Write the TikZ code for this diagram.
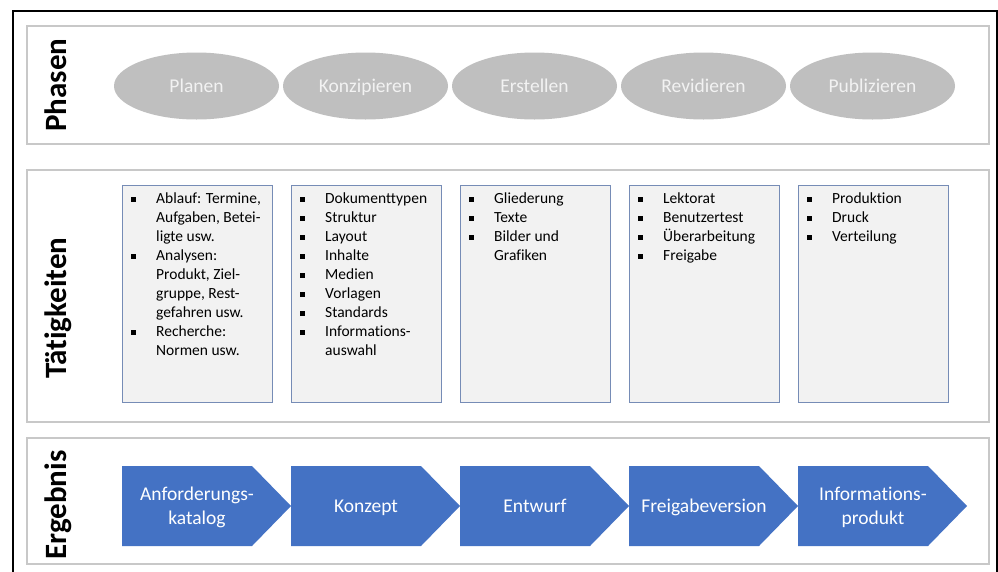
\documentclass[tikz,border=0pt]{standalone}
\usepackage{fontspec}
\setmainfont{Carlito}[Ligatures=CommonOff]
\usepackage{array}
\usetikzlibrary{shapes.geometric}
\definecolor{ellgray}{HTML}{BFBFBF}
\definecolor{elltext}{HTML}{F2F2F2}
\definecolor{panelgray}{HTML}{C8C8C8}
\definecolor{boxfill}{HTML}{F2F2F2}
\definecolor{boxline}{RGB}{118,140,182}
\definecolor{pentblue}{HTML}{4472C4}
\newcommand{\blt}{\rule[1.6pt]{4.5pt}{4.5pt}}
\tikzset{
  x=1pt, y=-1pt,
  frame/.style={draw=black, line width=2pt},
  panel/.style={draw=panelgray, line width=1.5pt, fill=white},
  phase/.style={ellipse, fill=ellgray, minimum width=165pt, minimum height=67pt, inner sep=0pt,
    text=elltext, font=\fontsize{19.5}{23}\selectfont, text height=13pt, text depth=0pt},
  actbox/.style={draw=boxline, line width=1pt, fill=boxfill, minimum width=150pt, minimum height=217pt, inner sep=0pt},
  acttext/.style={anchor=north west, inner sep=0pt, font=\fontsize{15.5}{19}\selectfont},
  rowlabel/.style={rotate=90, anchor=base, font=\fontsize{31}{36}\selectfont\bfseries, inner sep=0pt},
  pent/.style={fill=pentblue},
  restext/.style={text=white, align=center, font=\fontsize{19.5}{23.5}\selectfont, inner sep=0pt},
  resone/.style={restext, text height=13pt, text depth=0pt},
}
\begin{document}
\begin{tikzpicture}
\useasboundingbox (0,0) rectangle (998,571);
\clip (0,0) rectangle (998,571);
\fill[white] (0,0) rectangle (998,571);
% outer frame
\draw[frame] (13,11) rectangle (996.5,590);
% panels
\draw[panel] (27,26) rectangle (989,144);
\draw[panel] (27,170) rectangle (989,422);
\draw[panel] (27,438) rectangle (989,564);
% row labels
\node[rowlabel] (lphasen) at (66,85) {Phasen};
\node[rowlabel] (ltaet) at (66,308) {Tätigkeiten};
\node[rowlabel] (lerg) at (66,505) {Ergebnis};
% phases
\node[phase] (p1) at (196.5,86) {Planen};
\node[phase] (p2) at (365.5,86) {Konzipieren};
\node[phase] (p3) at (534.5,86) {Erstellen};
\node[phase] (p4) at (703.5,86) {Revidieren};
\node[phase] (p5) at (872.5,86) {Publizieren};
% activity boxes
\foreach \i in {0,...,4}{
  \node[actbox] (b\i) at (197+169*\i,293.5) {};
}
\node[acttext] (t0) at (131,190) {\begin{tabular}{@{}p{25pt}@{}l@{}}
\blt & Ablauf: Termine,\\
     & Aufgaben, Betei-\\
     & ligte usw.\\
\blt & Analysen:\\
     & Produkt, Ziel-\\
     & gruppe, Rest-\\
     & gefahren usw.\\
\blt & Recherche:\\
     & Normen usw.
\end{tabular}};
\node[acttext] (t1) at (300,190) {\begin{tabular}{@{}p{25pt}@{}l@{}}
\blt & Dokumenttypen\\
\blt & Struktur\\
\blt & Layout\\
\blt & Inhalte\\
\blt & Medien\\
\blt & Vorlagen\\
\blt & Standards\\
\blt & Informations-\\
     & auswahl
\end{tabular}};
\node[acttext] (t2) at (469,190) {\begin{tabular}{@{}p{25pt}@{}l@{}}
\blt & Gliederung\\
\blt & Texte\\
\blt & Bilder und\\
     & Grafiken
\end{tabular}};
\node[acttext] (t3) at (638,190) {\begin{tabular}{@{}p{25pt}@{}l@{}}
\blt & Lektorat\\
\blt & Benutzertest\\
\blt & Überarbeitung\\
\blt & Freigabe
\end{tabular}};
\node[acttext] (t4) at (807,190) {\begin{tabular}{@{}p{25pt}@{}l@{}}
\blt & Produktion\\
\blt & Druck\\
\blt & Verteilung
\end{tabular}};
% result pentagons
\foreach \i in {0,...,4}{
  \pgfmathsetmacro{\l}{122+169*\i}
  \fill[pent] (\l,466) -- (\l+130,466) -- (\l+169,506) -- (\l+130,546) -- (\l,546) -- cycle;
  \coordinate (c\i) at (\l+75,506);
}
\node[restext] (r0) at ([yshift=-1.5pt]c0) {Anforderungs-\\katalog};
\node[resone] (r1) at (c1) {Konzept};
\node[resone] (r2) at (c2) {Entwurf};
\node[resone] (r3) at (c3) {Freigabeversion};
\node[restext] (r4) at ([yshift=-1.5pt]c4) {Informations-\\produkt};
\end{tikzpicture}
\end{document}
